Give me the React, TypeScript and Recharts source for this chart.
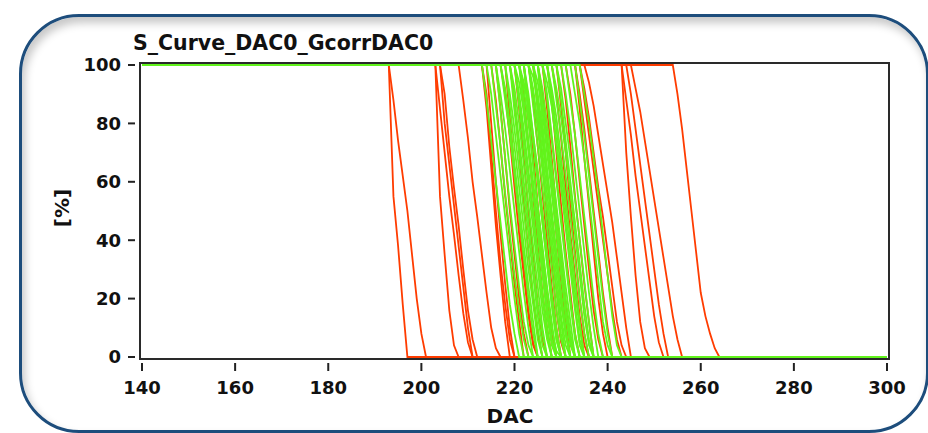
import React from "react";
import { LineChart, Line, XAxis, YAxis } from "recharts";

// ---- data ----
const dacMin = 140;
const dacMax = 300;
const xTicks = [140, 160, 180, 200, 220, 240, 260, 280, 300];
const yTicks = [0, 20, 40, 60, 80, 100];
const titleText = "S_Curve_DAC0_GcorrDAC0";
const xLabel = "DAC";
const yLabel = "[%]";

// [last DAC at 100 %, values at following DAC steps until 0 %]
const redCurves: [number, number[]][] = [
  [193, [55, 38, 18, 0]],
  [193, [88, 74, 62, 50, 35, 20, 8, 0]],
  [203, [55, 35, 16, 4, 0]],
  [203, [85, 70, 55, 42, 28, 15, 5, 0]],
  [204, [80, 66, 52, 38, 24, 10, 0]],
  [204, [90, 72, 58, 45, 30, 16, 6, 0]],
  [208, [88, 75, 60, 48, 35, 22, 10, 3, 0]],
  [213, [85, 65, 45, 28, 12, 0]],
  [213, [90, 70, 50, 32, 18, 6, 0]],
  [214, [80, 60, 42, 25, 10, 0]],
  [215, [88, 72, 55, 40, 25, 12, 0]],
  [216, [85, 68, 50, 35, 20, 8, 0]],
  [217, [90, 75, 58, 42, 28, 14, 4, 0]],
  [218, [82, 64, 48, 30, 16, 5, 0]],
  [219, [88, 70, 52, 36, 20, 8, 0]],
  [220, [85, 68, 50, 34, 18, 6, 0]],
  [221, [90, 72, 55, 38, 22, 10, 0]],
  [222, [86, 70, 52, 35, 20, 8, 0]],
  [223, [88, 72, 56, 40, 24, 10, 0]],
  [224, [85, 66, 48, 32, 16, 5, 0]],
  [225, [90, 74, 58, 42, 26, 12, 0]],
  [226, [85, 68, 50, 34, 18, 6, 0]],
  [227, [88, 70, 52, 36, 22, 8, 0]],
  [228, [90, 75, 58, 42, 28, 14, 4, 0]],
  [229, [86, 70, 52, 36, 20, 8, 0]],
  [230, [88, 72, 55, 40, 25, 12, 0]],
  [231, [90, 76, 60, 45, 30, 16, 6, 0]],
  [233, [90, 78, 64, 50, 36, 22, 10, 0]],
  [233, [85, 68, 52, 36, 20, 8, 0]],
  [234, [92, 82, 70, 58, 48, 36, 24, 12, 4, 0]],
  [234, [88, 76, 64, 52, 40, 28, 16, 6, 0]],
  [235, [94, 86, 76, 66, 56, 46, 34, 22, 10, 0]],
  [243, [70, 48, 28, 12, 3, 0]],
  [243, [88, 76, 62, 50, 38, 26, 14, 5, 0]],
  [244, [90, 78, 66, 54, 42, 30, 18, 8, 0]],
  [245, [92, 84, 74, 64, 54, 44, 34, 24, 14, 6, 0]],
  [254, [90, 78, 64, 50, 36, 22, 14, 8, 3, 0]],
];

const greenCurves: [number, number[]][] = [
  [213, [88, 74, 60, 46, 32, 18, 8, 0]],
  [214, [90, 76, 62, 48, 34, 20, 8, 0]],
  [215, [86, 72, 56, 42, 28, 16, 6, 0]],
  [216, [90, 78, 64, 50, 36, 22, 10, 0]],
  [216, [84, 68, 52, 38, 24, 12, 4, 0]],
  [217, [88, 76, 62, 48, 34, 20, 8, 0]],
  [217, [92, 80, 66, 52, 38, 24, 12, 0]],
  [218, [86, 72, 58, 44, 30, 18, 6, 0]],
  [218, [90, 78, 64, 50, 36, 22, 10, 0]],
  [219, [88, 74, 60, 46, 32, 18, 8, 0]],
  [219, [84, 70, 56, 42, 28, 14, 4, 0]],
  [219, [92, 80, 66, 52, 38, 24, 10, 0]],
  [220, [88, 76, 62, 48, 34, 20, 8, 0]],
  [220, [86, 72, 58, 44, 30, 16, 6, 0]],
  [220, [90, 78, 64, 50, 36, 22, 10, 0]],
  [220, [94, 84, 72, 58, 44, 30, 16, 6, 0]],
  [221, [88, 74, 60, 46, 32, 18, 6, 0]],
  [221, [92, 80, 66, 52, 38, 24, 12, 0]],
  [221, [84, 70, 56, 42, 28, 14, 4, 0]],
  [221, [94, 86, 74, 60, 46, 32, 18, 6, 0]],
  [222, [90, 76, 62, 48, 34, 20, 8, 0]],
  [222, [86, 74, 60, 46, 32, 18, 6, 0]],
  [222, [88, 76, 64, 50, 36, 22, 10, 0]],
  [222, [82, 66, 50, 36, 22, 10, 2, 0]],
  [223, [90, 78, 64, 50, 36, 22, 8, 0]],
  [223, [86, 72, 58, 44, 30, 16, 6, 0]],
  [223, [92, 80, 66, 52, 38, 24, 12, 0]],
  [223, [96, 88, 76, 62, 48, 34, 20, 8, 0]],
  [224, [88, 74, 60, 46, 32, 18, 8, 0]],
  [224, [84, 70, 56, 42, 28, 14, 4, 0]],
  [224, [90, 78, 64, 50, 36, 22, 10, 0]],
  [224, [94, 84, 70, 56, 42, 28, 14, 4, 0]],
  [225, [88, 76, 62, 48, 34, 20, 8, 0]],
  [225, [92, 80, 66, 52, 38, 24, 12, 0]],
  [225, [86, 72, 58, 44, 30, 16, 6, 0]],
  [225, [80, 64, 48, 34, 20, 8, 0]],
  [226, [90, 76, 62, 48, 34, 20, 8, 0]],
  [226, [88, 74, 60, 46, 32, 18, 6, 0]],
  [226, [94, 86, 74, 60, 46, 32, 18, 6, 0]],
  [227, [90, 78, 64, 50, 36, 22, 10, 0]],
  [227, [86, 72, 58, 44, 30, 16, 4, 0]],
  [227, [92, 82, 68, 54, 40, 26, 12, 0]],
  [228, [88, 76, 62, 48, 34, 20, 8, 0]],
  [228, [92, 82, 70, 56, 42, 28, 14, 4, 0]],
  [229, [88, 74, 60, 46, 32, 18, 6, 0]],
  [229, [92, 80, 68, 54, 40, 26, 12, 0]],
  [230, [90, 78, 64, 50, 36, 22, 10, 0]],
  [231, [88, 76, 62, 48, 34, 20, 8, 0]],
  [232, [90, 80, 68, 54, 40, 26, 12, 4, 0]],
  [233, [88, 76, 62, 48, 34, 20, 8, 0]],
  [234, [90, 80, 68, 56, 42, 28, 14, 4, 0]],
];

const RED = "#ff3c00";
const GREEN = "#62f41c";

function valueAt(curve: [number, number[]], dac: number): number {
  const [start, vals] = curve;
  if (dac <= start) return 100;
  const idx = dac - start - 1;
  return idx < vals.length ? vals[idx] : 0;
}

const rows: Record<string, number>[] = [];
for (let d = dacMin; d <= dacMax; d++) {
  const row: Record<string, number> = { dac: d };
  redCurves.forEach((c, i) => (row[`r${i}`] = valueAt(c, d)));
  greenCurves.forEach((c, i) => (row[`g${i}`] = valueAt(c, d)));
  rows.push(row);
}

const FONT = "'DejaVu Sans', Verdana, sans-serif";

const XTick = (props: any) => {
  const { x, y, payload } = props;
  return (
    <g>
      <line x1={x} x2={x} y1={y + 6} y2={y + 14} stroke="#222" strokeWidth={2} />
      <text x={x} y={y + 37} textAnchor="middle" fontFamily={FONT} fontWeight="bold" fontSize={18} fill="#111">
        {payload.value}
      </text>
    </g>
  );
};

const YTick = (props: any) => {
  const { x, y, payload } = props;
  return (
    <g>
      <line x1={x - 14} x2={x - 7} y1={y} y2={y} stroke="#222" strokeWidth={2} />
      <text x={x - 21} y={y} dy="0.36em" textAnchor="end" fontFamily={FONT} fontWeight="bold" fontSize={18} fill="#111">
        {payload.value}
      </text>
    </g>
  );
};

export default function App() {
  return (
    <div style={{ position: "fixed", left: 0, top: 0, width: 928, height: 433, background: "#fff", overflow: "hidden" }}>
      <div
        style={{
          position: "absolute",
          left: 19,
          top: 14,
          width: 910,
          height: 419,
          boxSizing: "border-box",
          border: "3px solid #1d4d7c",
          borderRadius: 60,
          boxShadow: "inset 3px 6px 9px rgba(0,0,0,0.22)",
        }}
      />
      <LineChart
        width={928}
        height={433}
        data={rows}
        margin={{ top: 65, right: 41, bottom: 46, left: 82 }}
        style={{ position: "absolute", left: 0, top: 0 }}
      >
        <XAxis
          dataKey="dac"
          type="number"
          domain={[dacMin, dacMax]}
          ticks={xTicks}
          height={30}
          axisLine={false}
          tickLine={false}
          tickSize={0}
          tickMargin={0}
          tick={<XTick />}
          interval={0}
        />
        <YAxis
          type="number"
          domain={[0, 100]}
          ticks={yTicks}
          width={60}
          axisLine={false}
          tickLine={false}
          tickSize={0}
          tickMargin={0}
          tick={<YTick />}
          interval={0}
        />
        {redCurves.map((_, i) => (
          <Line
            key={`r${i}`}
            dataKey={`r${i}`}
            type="linear"
            stroke={RED}
            strokeWidth={1.8}
            dot={false}
            isAnimationActive={false}
          />
        ))}
        {greenCurves.map((_, i) => (
          <Line
            key={`g${i}`}
            dataKey={`g${i}`}
            type="linear"
            stroke={GREEN}
            strokeWidth={1.8}
            dot={false}
            isAnimationActive={false}
          />
        ))}
      </LineChart>
      <div
        style={{
          position: "absolute",
          left: 139,
          top: 62,
          width: 751,
          height: 298,
          boxSizing: "border-box",
          border: "2px solid #2a2a2a",
        }}
      />
      <svg width={928} height={433} style={{ position: "absolute", left: 0, top: 0, pointerEvents: "none" }}>
        <text x={133} y={50} fontFamily={FONT} fontWeight="bold" fontSize={20.5} fill="#111">
          {titleText}
        </text>
        <text x={510} y={423} textAnchor="middle" fontFamily={FONT} fontWeight="bold" fontSize={20} fill="#111">
          {xLabel}
        </text>
        <text
          x={69}
          y={208}
          textAnchor="middle"
          fontFamily={FONT}
          fontWeight="bold"
          fontSize={20}
          fill="#111"
          transform="rotate(-90 69 208)"
        >
          {yLabel}
        </text>
      </svg>
    </div>
  );
}
